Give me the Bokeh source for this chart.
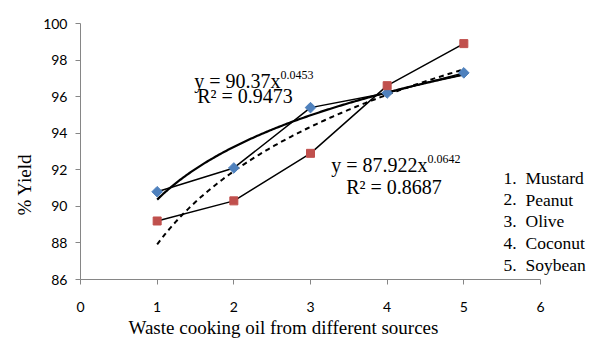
from bokeh.plotting import figure
from bokeh.models import Range1d, Label, FixedTicker, Title
from bokeh.embed import file_html
from bokeh.resources import INLINE
import numpy as np

# ---- data ----
sources_x = [1, 2, 3, 4, 5]
blue_yield = [90.8, 92.1, 95.4, 96.2, 97.3]
red_yield = [89.2, 90.3, 92.9, 96.6, 98.9]
blue_fit = [90.37, 0.0453]   # y = a x^b
red_fit = [87.922, 0.0642]
blue_r2 = "0.9473"
red_r2 = "0.8687"
legend_nums = ["1.", "2.", "3.", "4.", "5."]
legend_names = ["Mustard", "Peanut", "Olive", "Coconut", "Soybean"]
x_ticks = [0, 1, 2, 3, 4, 5, 6]
y_ticks = [86, 88, 90, 92, 94, 96, 98, 100]

SERIF = "Liberation Serif"
SANS = "Lato"
PX_PER_X = 460 / 6
PX_PER_Y = 256 / 14

p = figure(width=592, height=338, output_backend="svg", toolbar_location=None,
           x_range=Range1d(0, 512 / PX_PER_X), y_range=Range1d(86, 100),
           min_border_left=80, min_border_right=0, min_border_top=23, min_border_bottom=59)
p.outline_line_color = None
p.grid.visible = False
p.background_fill_color = "white"
p.border_fill_color = "white"

for ax in (p.xaxis, p.yaxis):
    ax.axis_line_color = "#868686"
    ax.major_tick_line_color = "#868686"
    ax.minor_tick_line_color = None
    ax.major_tick_in = 0
    ax.major_tick_out = 5
    ax.major_label_text_font = SANS
    ax.major_label_text_font_size = "14px"
    ax.major_label_text_color = "black"
p.xaxis.ticker = FixedTicker(ticks=x_ticks)
p.yaxis.ticker = FixedTicker(ticks=y_ticks)
p.xaxis.bounds = (0, 6)
p.xaxis.major_label_standoff = 17
p.yaxis.major_label_standoff = 8

# axis titles
p.add_layout(Title(text="Waste cooking oil from different sources", align="left", offset=48,
                   text_font=SERIF, text_font_size="19px", text_font_style="normal",
                   text_color="black", standoff=0), "below")
p.add_layout(Title(text="% Yield", align="left", offset=64,
                   text_font=SERIF, text_font_size="19px", text_font_style="normal",
                   text_color="black", standoff=12), "left")

def dx(px):
    return (px - 80) / PX_PER_X

def dy(py):
    return 86 + (279.3 - py) / PX_PER_Y

xs = np.array(sources_x, dtype=float)
xf = np.linspace(xs.min(), xs.max(), 200)

# series lines
p.line(sources_x, blue_yield, line_color="black", line_width=1.5)
p.line(sources_x, red_yield, line_color="black", line_width=1.5)
# trendlines
p.line(xf, blue_fit[0] * xf ** blue_fit[1], line_color="black", line_width=2.2)
p.line(xf, red_fit[0] * xf ** red_fit[1], line_color="black", line_width=2, line_dash="5 4")
# markers
p.scatter(sources_x, blue_yield, marker="square", angle=np.pi / 4, size=7.5,
          fill_color="#4F81BD", line_color="#4F81BD")
p.scatter(sources_x, red_yield, marker="square", size=8, fill_color="#C0504D", line_color="#C0504D")

def lab(px, py, text, size, align="left", font=SERIF):
    p.add_layout(Label(x=dx(px), y=dy(py), text=text, text_font=font, text_font_size=size,
                       text_align=align, text_baseline="alphabetic", text_color="black"))

# equations
lab(280, 81, "y = %.2fx" % blue_fit[0], "20px", "right")
lab(280, 75, "%.4f" % blue_fit[1], "12px", "left")
lab(244.5, 96, "R² = " + blue_r2, "20px", "center")
lab(427, 165, "y = %.3fx" % red_fit[0], "20px", "right")
lab(427, 159, "%.4f" % red_fit[1], "12px", "left")
lab(393.5, 187, "R² = " + red_r2, "20px", "center")

# list of sources
base = [178, 199.5, 221, 243, 265]
for n, name, b in zip(legend_nums, legend_names, base):
    lab(503, b, n, "17.5px", "left")
    lab(525, b, name, "17.5px", "left")

open("out.html", "w").write(file_html(p, INLINE))
